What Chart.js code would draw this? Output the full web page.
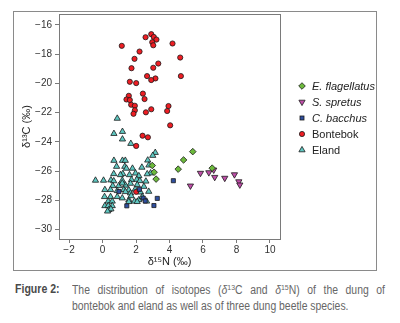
<!DOCTYPE html>
<html><head><meta charset="utf-8">
<script src="https://cdn.jsdelivr.net/npm/chart.js@4.4.0/dist/chart.umd.min.js"></script>
<style>
html,body{margin:0;padding:0;background:#fff;width:400px;height:323px;overflow:hidden;}
#frame{position:absolute;left:13px;top:11px;width:364px;height:260px;box-sizing:border-box;border:1px solid #8a8a8a;}
#wrap{position:absolute;left:0;top:0;width:400px;height:270px;}
#legend{position:absolute;left:297px;top:78px;font:11px 'Liberation Sans',Arial,sans-serif;color:#222;}
.item{height:16px;display:flex;align-items:center;white-space:nowrap;}
.item svg{margin-right:5px;flex:none}
.it{font-style:italic}
#capL{position:absolute;left:15px;top:282px;font:bold 12px 'Liberation Sans',Arial,sans-serif;color:#4a4a4a;transform:scaleX(0.88);transform-origin:0 0;white-space:nowrap;}
#capT{position:absolute;left:72px;top:282px;width:361px;font:12px 'Liberation Sans',Arial,sans-serif;color:#666;line-height:16px;transform:scaleX(0.867);transform-origin:0 0;}
#l1{text-align:justify;text-align-last:justify;white-space:nowrap;display:block}
#l2{white-space:nowrap;display:block}
sup{font-size:8px;line-height:0;vertical-align:4px}
</style></head>
<body>
<div id="frame"></div>
<div id="wrap"><canvas id="c" width="400" height="270"></canvas></div>
<div id="legend"></div>
<div id="capL">Figure 2:</div>
<div id="capT"><span id="l1">The distribution of isotopes (<i>δ</i><sup>13</sup>C and <i>δ</i><sup>15</sup>N) of the dung of</span><span id="l2">bontebok and eland as well as of three dung beetle species.</span></div>
<script>
// ---- data (δ15N, δ13C) ----
const seriesNames = ['E. flagellatus','S. spretus','C. bacchus','Bontebok','Eland'];
const flagellatusN = [5.39,4.84,4.52,6.55,3.20,3.08,2.97];
const flagellatusC = [-24.67,-25.24,-25.87,-25.80,-26.55,-26.08,-25.62];
const spretusN = [5.85,6.35,6.64,6.70,7.30,7.88,8.14,8.20,5.25];
const spretusC = [-26.14,-26.10,-25.92,-26.42,-26.48,-26.24,-26.72,-26.94,-27.01];
const bacchusN = [4.23,2.43,2.55,3.27,3.07,1.45,0.98,2.20];
const bacchusC = [-26.66,-27.85,-28.05,-27.87,-28.36,-28.38,-27.40,-27.25];
const bontebokN = [2.57,2.91,3.06,3.22,2.97,3.03,1.15,4.18,2.21,4.64,1.91,3.33,3.03,1.73,2.66,3.16,2.91,4.68,1.63,2.01,2.41,2.51,1.57,1.43,1.63,1.71,1.93,1.93,1.85,2.59,2.91,3.94,3.86,4.04,2.39,2.71,2.01,2.01];
const bontebokC = [-16.84,-16.63,-16.82,-17.00,-17.18,-17.39,-17.43,-17.27,-17.82,-18.23,-18.32,-18.64,-18.93,-18.96,-19.50,-19.66,-19.77,-19.50,-19.89,-19.98,-20.70,-21.07,-20.85,-21.10,-21.14,-21.46,-21.53,-21.84,-22.08,-21.98,-21.77,-21.55,-21.89,-22.87,-23.58,-23.69,-24.28,-27.42];
const elandN = [0.88,0.68,1.19,1.19,1.69,3.15,3.00,0.68,1.19,1.36,2.70,2.77,0.84,1.33,1.43,1.79,2.35,2.87,0.67,1.21,1.97,1.07,1.61,2.17,2.67,-0.42,0.06,0.50,0.67,1.18,1.73,2.05,2.23,2.59,0.61,0.97,1.37,1.18,1.67,2.07,2.47,0.14,0.48,0.88,1.27,1.57,1.95,2.27,2.76,1.37,1.67,0.12,0.48,0.88,1.18,1.57,1.71,2.17,2.37,0.34,0.58,1.57,1.91,2.07,2.63,0.14,0.34,0.58,0.38,0.50,0.30];
const elandC = [-22.40,-23.44,-23.30,-23.82,-24.12,-24.74,-24.94,-25.28,-25.28,-25.28,-25.26,-25.60,-25.69,-25.69,-25.82,-25.82,-25.75,-26.14,-26.19,-26.19,-26.15,-26.26,-26.26,-26.33,-26.20,-26.64,-26.64,-26.62,-26.68,-26.64,-26.60,-26.58,-26.67,-26.70,-27.01,-27.01,-26.98,-26.83,-26.85,-26.94,-27.06,-27.28,-27.28,-27.35,-27.28,-27.30,-27.25,-27.45,-27.40,-27.42,-27.51,-27.76,-27.76,-27.76,-27.85,-27.97,-27.70,-27.97,-27.76,-28.07,-28.07,-28.10,-28.07,-28.10,-28.07,-28.38,-28.38,-28.38,-28.65,-28.60,-28.75];
const xTicks = [-2,0,2,4,6,8,10];
const yTicks = [-30,-28,-26,-24,-22,-20,-18,-16];

const pts = (xs, ys) => xs.map((x, i) => ({x: x, y: ys[i]}));
const colors = ['#6cb93c','#c04ea9','#2f4f9f','#ee1d23','#5fc7c1'];
const styles = [
  {pointStyle:'rectRot', pointRadius:3.3, rot:0},
  {pointStyle:'triangle', pointRadius:3.6, rot:180},
  {pointStyle:'rect', pointRadius:2.9, rot:0},
  {pointStyle:'circle', pointRadius:2.6, rot:0},
  {pointStyle:'triangle', pointRadius:3.6, rot:0}
];
const allData = [pts(flagellatusN, flagellatusC), pts(spretusN, spretusC), pts(bacchusN, bacchusC), pts(bontebokN, bontebokC), pts(elandN, elandC)];

const datasets = seriesNames.map((n, i) => ({
  label: n,
  data: allData[i],
  backgroundColor: colors[i],
  borderColor: '#1a1a1a',
  borderWidth: 0.8,
  pointStyle: styles[i].pointStyle,
  pointRadius: styles[i].pointRadius,
  pointHoverRadius: styles[i].pointRadius,
  pointRotation: styles[i].rot
}));

const minus = v => String(v).replace('-', '\u2212');
const frameBox = {
  id: 'frameBox',
  afterDatasetsDraw(chart) {
    const a = chart.chartArea, ctx = chart.ctx;
    ctx.save();
    ctx.strokeStyle = '#7a7a7a';
    ctx.lineWidth = 1;
    ctx.strokeRect(Math.round(a.left) + 0.5, Math.round(a.top) + 0.5, Math.round(a.right - a.left), Math.round(a.bottom - a.top));
    ctx.restore();
  }
};

new Chart(document.getElementById('c'), {
  type: 'scatter',
  data: { datasets: datasets },
  plugins: [frameBox],
  options: {
    responsive: false,
    animation: false,
    layout: { padding: { left: 13, top: 14, right: 120, bottom: 1 } },
    plugins: { legend: { display: false }, tooltip: { enabled: false } },
    scales: {
      x: {
        type: 'linear', min: -2.6, max: 10.6,
        afterBuildTicks: s => { s.ticks = xTicks.map(v => ({value: v})); },
        afterFit: s => { s.height = 30; },
        grid: { display: true, drawOnChartArea: false, drawTicks: true, tickLength: 4, color: '#7a7a7a' },
        border: { display: true, color: '#7a7a7a' },
        ticks: { callback: v => minus(v), color: '#333', font: { family: "'Liberation Sans', Arial, sans-serif", size: 10 }, padding: 1, maxRotation: 0 },
        title: { display: true, text: 'δ¹⁵N (‰)', color: '#222', font: { family: "'Liberation Sans', Arial, sans-serif", size: 11 }, padding: { top: 0, bottom: 0 } }
      },
      y: {
        type: 'linear', min: -30.65, max: -15.25,
        afterBuildTicks: s => { s.ticks = yTicks.map(v => ({value: v})); },
        afterFit: s => { s.width = 46; },
        grid: { display: true, drawOnChartArea: false, drawTicks: true, tickLength: 4, color: '#7a7a7a' },
        border: { display: true, color: '#7a7a7a' },
        ticks: { callback: v => minus(v), color: '#333', font: { family: "'Liberation Sans', Arial, sans-serif", size: 10 }, padding: 3 },
        title: { display: true, text: 'δ¹³C (‰)', color: '#222', font: { family: "'Liberation Sans', Arial, sans-serif", size: 11 }, padding: { top: 7, bottom: 0 } }
      }
    }
  }
});

// ---- HTML legend ----
function markerSvg(i) {
  const c = colors[i], s = 'stroke="#1a1a1a" stroke-width="0.8"';
  let shape;
  if (i === 0) shape = `<polygon points="5,1.7 8.3,5 5,8.3 1.7,5" fill="${c}" ${s}/>`;
  else if (i === 1) shape = `<polygon points="1.9,3.2 8.1,3.2 5,8.6" fill="${c}" ${s}/>`;
  else if (i === 2) shape = `<rect x="3" y="3" width="4" height="4" fill="${c}" ${s}/>`;
  else if (i === 3) shape = `<circle cx="5" cy="5" r="2.6" fill="${c}" ${s}/>`;
  else shape = `<polygon points="5,1.4 8.1,6.8 1.9,6.8" fill="${c}" ${s}/>`;
  return `<svg width="10" height="10" viewBox="0 0 10 10">${shape}</svg>`;
}
const leg = document.getElementById('legend');
seriesNames.forEach((n, i) => {
  const d = document.createElement('div');
  d.className = 'item';
  d.innerHTML = markerSvg(i) + `<span class="${i < 3 ? 'it' : ''}">${n}</span>`;
  leg.appendChild(d);
});
</script>
</body></html>
